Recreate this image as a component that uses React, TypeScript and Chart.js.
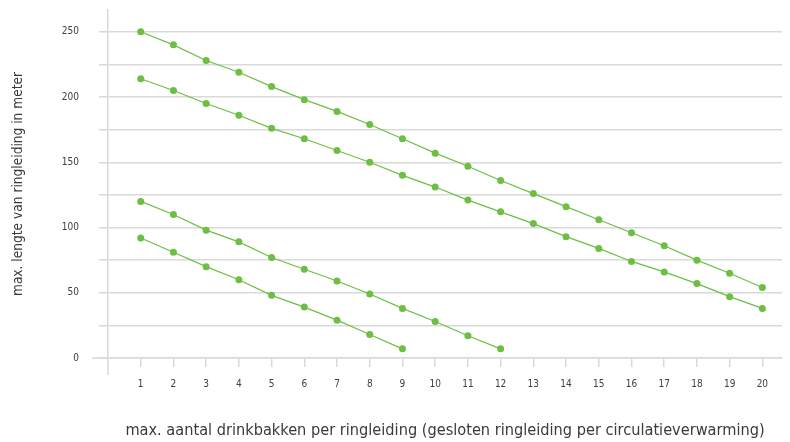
import React, { useEffect, useRef } from "react";
import { Chart, registerables } from "chart.js";

Chart.register(...registerables);

const xValues = [1, 2, 3, 4, 5, 6, 7, 8, 9, 10, 11, 12, 13, 14, 15, 16, 17, 18, 19, 20];
const series1 = [250, 240, 228, 219, 208, 198, 189, 179, 168, 157, 147, 136, 126, 116, 106, 96, 86, 75, 65, 54];
const series2 = [214, 205, 195, 186, 176, 168, 159, 150, 140, 131, 121, 112, 103, 93, 84, 74, 66, 57, 47, 38];
const series3 = [120, 110, 98, 89, 77, 68, 59, 49, 38, 28, 17, 7];
const series4 = [92, 81, 70, 60, 48, 39, 29, 18, 7];

const yTitle = "max. lengte van ringleiding in meter";
const xTitle = "max. aantal drinkbakken per ringleiding (gesloten ringleiding per circulatieverwarming)";

const FONT = "'Liberation Sans Narrow', 'DejaVu Sans Condensed', 'Noto Sans', sans-serif";
const GREEN = "#6dbf43";
const GRID = "#d9d9d9";

const toPoints = (vals: number[]) => vals.map((v, i) => ({ x: xValues[i], y: v }));

const axisExtras = {
  id: "axisExtras",
  afterDatasetsDraw(chart: any) {
    const { ctx, chartArea } = chart;
    ctx.save();
    ctx.strokeStyle = GRID;
    ctx.lineWidth = 1.5;
    ctx.beginPath();
    ctx.moveTo(chartArea.left, chartArea.bottom);
    ctx.lineTo(chartArea.left, chartArea.bottom + 17);
    ctx.moveTo(chartArea.left - 16, chartArea.bottom);
    ctx.lineTo(chartArea.left, chartArea.bottom);
    ctx.stroke();
    ctx.restore();
  },
};

export default function App() {
  const ref = useRef<HTMLCanvasElement | null>(null);
  useEffect(() => {
    if (!ref.current) return;
    const ds = (data: number[]) => ({
      data: toPoints(data),
      borderColor: GREEN,
      backgroundColor: GREEN,
      borderWidth: 1.2,
      pointRadius: 3.5,
      pointBorderWidth: 0,
      pointBackgroundColor: GREEN,
      showLine: true,
    });
    const chart = new Chart(ref.current, {
      type: "scatter",
      data: {
        datasets: [ds(series1), ds(series2), ds(series3), ds(series4)],
      },
      plugins: [axisExtras],
      options: {
        animation: false,
        responsive: false,
        maintainAspectRatio: false,
        layout: { padding: { top: 10, right: 8, left: 0, bottom: 0 } },
        plugins: { legend: { display: false }, tooltip: { enabled: false } },
        scales: {
          x: {
            type: "linear",
            min: 0,
            max: 20.6,
            afterBuildTicks: (scale: any) => {
              scale.ticks = xValues.map((v) => ({ value: v }));
            },
            afterFit: (scale: any) => {
              scale.height = 84;
              scale.paddingLeft = 0;
              scale.paddingRight = 0;
            },
            ticks: {
              stepSize: 1,
              autoSkip: false,
              maxRotation: 0,
              padding: 11,
              color: "#404040",
              font: { family: FONT, size: 10 },
            },
            grid: {
              drawOnChartArea: false,
              drawTicks: true,
              tickLength: 9,
              color: GRID,
              lineWidth: 1.5,
            },
            border: { display: true, color: GRID, width: 1.5 },
            title: {
              display: true,
              text: xTitle,
              color: "#3a3a3a",
              font: { family: FONT, size: 16.2 },
              padding: { top: 0, bottom: 1 },
            },
          },
          y: {
            type: "linear",
            min: 0,
            max: 266.7,
            afterBuildTicks: (scale: any) => {
              scale.ticks = scale.ticks.filter((t: any) => t.value % 25 === 0);
            },
            afterFit: (scale: any) => {
              scale.width = 108;
              scale.paddingTop = 0;
              scale.paddingBottom = 0;
            },
            ticks: {
              stepSize: 25,
              padding: 20,
              color: "#404040",
              font: { family: FONT, size: 10 },
              callback: (v: any) => (Number(v) % 50 === 0 ? String(v) : ""),
            },
            grid: {
              drawTicks: true,
              tickLength: 9,
              color: GRID,
              lineWidth: 1.5,
            },
            border: { display: true, color: GRID, width: 1.5 },
            title: {
              display: true,
              text: yTitle,
              color: "#3a3a3a",
              font: { family: FONT, size: 13.6 },
              padding: { top: 10, bottom: 0 },
            },
          },
        },
      },
    } as any);
    return () => chart.destroy();
  }, []);
  return (
    <div style={{ position: "absolute", left: 0, top: 0, width: 790, height: 442 }}>
      <canvas ref={ref} width={790} height={442} style={{ width: 790, height: 442 }} />
    </div>
  );
}
